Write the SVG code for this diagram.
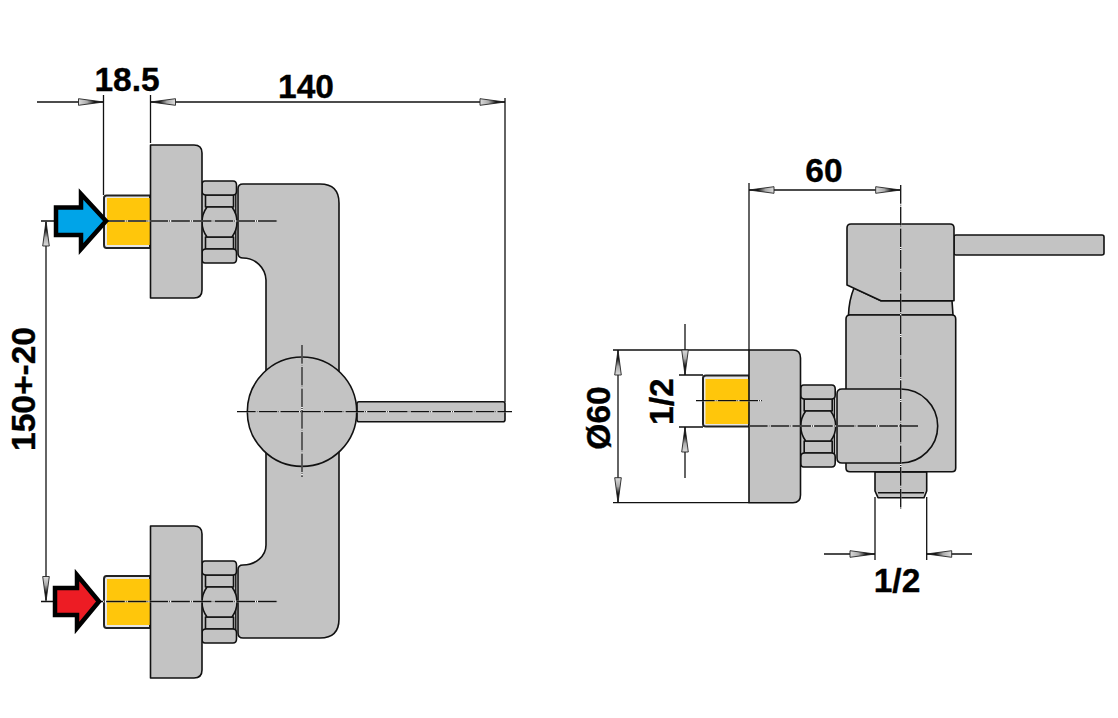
<svg xmlns="http://www.w3.org/2000/svg" width="1118" height="718" viewBox="0 0 1118 718">
<style>
.p{fill:#c3c3c3;stroke:#111;stroke-width:1.6;stroke-linejoin:round}
.s{fill:#e6e6e6;stroke:#222;stroke-width:2;stroke-linejoin:round}
.n{fill:#c3c3c3;stroke:none}
.y{fill:#ffc60b}
.l{fill:none;stroke:#111;stroke-width:1.4}
.d{fill:none;stroke:#111;stroke-width:1.3}
.da{marker-start:url(#ah);marker-end:url(#ah)}
.ds{marker-start:url(#ah)}
.de{marker-end:url(#ah)}
.clw{fill:none;stroke:#fff;stroke-width:1.3}
.cl{fill:none;stroke:#111;stroke-width:1.3;stroke-dasharray:18.7 1 .8 1.2}
.t{font-family:"Liberation Sans",Arial,sans-serif;font-weight:700;font-size:33.500px;fill:#000;stroke:#000;stroke-width:.35;text-anchor:middle}
.ar{stroke:#000;stroke-width:4.5;stroke-linejoin:miter}
</style>
<defs>
<linearGradient id="ag" gradientUnits="userSpaceOnUse" x1="1" y1="0" x2="26" y2="0">
<stop offset="0" stop-color="#ddd"/><stop offset=".35" stop-color="#aaa"/><stop offset=".65" stop-color="#111"/>
</linearGradient>
<marker id="ah" markerUnits="userSpaceOnUse" markerWidth="28" markerHeight="10" refX="26" refY="5" orient="auto-start-reverse">
<path d="M1,1.700 L26,5 L1,8.300 Z" fill="url(#ag)" stroke="#222" stroke-width=".9"/>
</marker>
<g id="nut">
<rect class="n" x="202" y="190" width="34.500" height="64"/>
<path class="l" d="M235.800,190 V254"/>
<path class="p" d="M205.500,195 H233.500 V207 H205.500 Z"/>
<path class="p" d="M205.500,237 H233.500 V249 H205.500 Z"/>
<path class="p" d="M207,207 H232 Q237,214 237,222 Q237,230 232,237 H207 Q202,230 202,222 Q202,214 207,207 Z"/>
<path class="p" d="M205,181 H233 Q236.500,181 236.500,185 V191 Q236.500,195 233,195 H206 Q202,195 202,191 V185 Q202,181 205,181 Z"/>
<path class="p" d="M206,249 H233 Q236.500,249 236.500,253 V259 Q236.500,263 233,263 H205 Q202,263 202,259 V253 Q202,249 206,249 Z"/>
</g>
<path id="cls" d="M41,221 H278 M41,601.500 H278 M237,411.700 H512 M302,345 V477 M696,400.700 H762 M749,426 H918 M900.700,185 V509"/>
</defs>

<g id="left-top-connection">
<path class="s" d="M150,195.500 H106.500 Q104,195.500 104,198 V245 Q104,248 106.500,248 H150 Z"/>
<rect class="y" x="107" y="198" width="43" height="47"/>
<use href="#nut"/>
<path class="p" d="M150.500,145 H194 Q202,145 202,153 V290 Q202,298 194,298 H150.500 Z"/>
</g>
<g id="left-bottom-connection">
<path class="s" d="M150,576 H106.500 Q104,576 104,579 V625 Q104,628 106.500,628 H150 Z"/>
<rect class="y" x="107" y="579" width="43" height="46"/>
<use href="#nut" y="380"/>
<path class="p" d="M150.500,526 H194 Q202,526 202,534 V670 Q202,678 194,678 H150.500 Z"/>
</g>
<g id="left-body">
<path class="p" d="M238,189 Q238,184 243,184 H320 Q339,184 339,203 V619 Q339,638 320,638 H243 Q238,638 238,633 V570 Q238,565 243,565 A23,20 0 0 0 266,545 V280 A23,23 0 0 0 243,258 Q238,258 238,253 Z"/>
<rect class="p" x="357" y="401.700" width="148" height="20" rx="2"/>
<circle class="p" cx="302" cy="411.700" r="54.700"/>
</g>

<g id="right-valve">
<path class="p" d="M848.500,315 Q849,300 854,288 L881,300.700 H952 L953,315 Z"/>
<rect class="p" x="954" y="235" width="150" height="20" rx="2"/>
<path class="p" d="M851,224 H950 Q954,224 954,228 V300.700 H881 L847,285 V228 Q847,224 851,224 Z"/>
<path class="p" d="M875,472 H926.700 V491 L924,497.700 H878 L875,491 Z"/>
<path class="l" d="M878,492.700 H924"/>
<path class="p" d="M850,315 H952 Q955.700,315 955.700,319 V468 Q955.700,471.700 952,471.700 H850 Q846,471.700 846,468 V319 Q846,315 850,315 Z"/>
<path class="s" d="M703,378 Q703,375.500 706,375.500 H749 V426.500 H706 Q703,426.500 703,424 Z"/>
<rect class="y" x="705.500" y="379" width="43.500" height="45"/>
<use href="#nut" x="598.700" y="204"/>
<path class="p" d="M749,350 H793 Q800.500,350 800.500,358 V495 Q800.500,502.700 793,502.700 H749 Z"/>
<path class="p" d="M842,389 H900.700 A37,37 0 0 1 900.700,463 H842 Q837,463 837,458 V394 Q837,389 842,389 Z"/>
</g>

<g id="connectors">
<path class="d de" d="M37,102 H103.500"/>
<path class="d da" d="M150.500,102 H505"/>
<path class="d" d="M103.500,95 V195 M150.500,95 V143 M505,98 V402"/>
<path class="d da" d="M46,221 V601.500"/>
<path class="d da" d="M749,190 H900.700"/>
<path class="d" d="M749,183 V350"/>
<path class="d da" d="M618,350 V502.700"/>
<path class="d" d="M613,350 H749 M613,502.700 H749"/>
<path class="d de" d="M685,324 V375"/>
<path class="d ds" d="M685,427 V478"/>
<path class="d" d="M679,375 H703 M679,427 H703"/>
<path class="d de" d="M824,554 H875"/>
<path class="d ds" d="M926.700,554 H972"/>
<path class="d" d="M875,497 V560 M926.700,497 V560"/>
<use href="#cls" class="clw"/>
<use href="#cls" class="cl"/>
</g>

<g id="inlet-cold"><polygon class="ar" fill="#00a4e8" points="106,221 81,194 81,207.500 56,207.500 56,235 81,235 81,249"/></g>
<g id="inlet-hot"><polygon class="ar" fill="#ed1c24" points="99,601.500 77,575 77,588 55,588 55,615 77,615 77,628"/></g>

<g id="labels">
<text class="t" x="127" y="91">18.5</text>
<text class="t" x="306" y="98">140</text>
<text class="t" transform="translate(35,389) rotate(-90)">150+-20</text>
<text class="t" x="824" y="182">60</text>
<text class="t" transform="translate(610,418) rotate(-90)">Ø60</text>
<text class="t" transform="translate(673,401.700) rotate(-90)">1/2</text>
<text class="t" x="897" y="591.700">1/2</text>
</g>
</svg>
